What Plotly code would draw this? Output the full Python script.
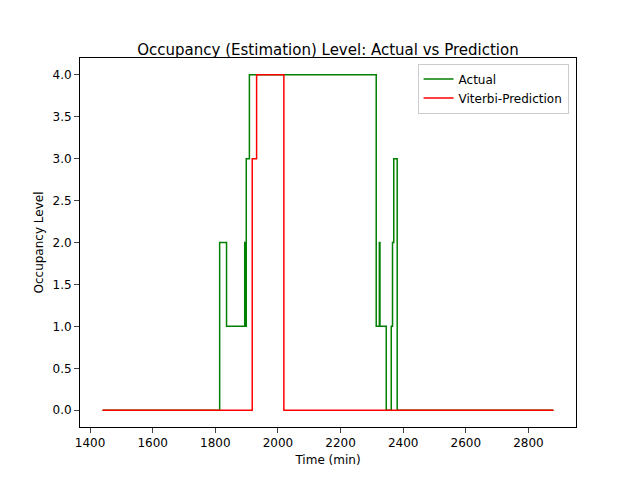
import plotly.graph_objects as go

# change points (min) and levels, drawn as steps
actual_t = [1440, 1814, 1836, 1894, 1896, 1899, 1909, 2314, 2324, 2326, 2346, 2362, 2366, 2370, 2381, 2880]
actual_y = [0, 2, 1, 2, 1, 3, 4, 1, 2, 1, 0, 1, 2, 3, 0, 0]
pred_t = [1440, 1918, 1932, 2019, 2880]
pred_y = [0, 3, 4, 0, 0]

fig = go.Figure()
fig.add_trace(go.Scatter(x=actual_t, y=actual_y, mode='lines', line=dict(color='green', width=1.5, shape='hv'), name='Actual'))
fig.add_trace(go.Scatter(x=pred_t, y=pred_y, mode='lines', line=dict(color='red', width=1.5, shape='hv'), name='Viterbi-Prediction'))

axis = dict(showline=True, mirror=True, linecolor='black', ticks='outside', showgrid=False, zeroline=False,
            tickfont=dict(size=12, color='black'))
fig.update_layout(
    width=640, height=480, plot_bgcolor='white', paper_bgcolor='white',
    font=dict(family='DejaVu Sans', size=12, color='black'),
    title=dict(text='Occupancy (Estimation) Level: Actual vs Prediction', x=0.5, y=0.925, xanchor='center', font=dict(size=15)),
    margin=dict(l=72, r=72, t=50, b=61),
    xaxis=dict(axis, title=dict(text='Time (min)', standoff=6, font=dict(size=12)), range=[1368, 2952], tickvals=list(range(1400, 2801, 200))),
    yaxis=dict(axis, title=dict(text='Occupancy Level', standoff=6, font=dict(size=12)), range=[-0.2, 4.2], tickvals=[0, 0.5, 1, 1.5, 2, 2.5, 3, 3.5, 4],
               ticktext=['0.0', '0.5', '1.0', '1.5', '2.0', '2.5', '3.0', '3.5', '4.0']),
    legend=dict(x=0.985, y=0.985, xanchor='right', yanchor='top', bordercolor='#cccccc', borderwidth=1, font=dict(size=12)),
)
fig.write_html("out.html")
